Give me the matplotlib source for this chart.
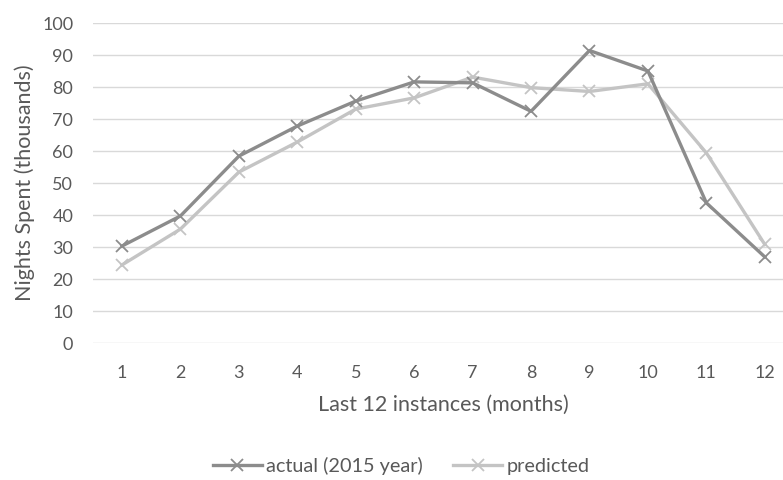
import matplotlib
matplotlib.use("Agg")
import matplotlib.pyplot as plt

# donnees
mois = list(range(1, 13))
actual = [30.3, 39.7, 58.4, 67.8, 75.6, 81.6, 81.3, 72.4, 91.4, 85.0, 43.8, 26.9]
predicted = [24.4, 35.6, 53.4, 62.8, 73.1, 76.6, 83.1, 79.8, 78.6, 81.0, 59.4, 30.8]
yticks = list(range(0, 101, 10))

plt.rcParams['font.family'] = ['Lato', 'DejaVu Sans']
texte = '#595959'

fig = plt.figure(figsize=(7.83, 4.8), dpi=100)
ax = fig.add_axes([92.8 / 783, 137 / 480, (794 - 92.8) / 783, 320 / 480])

ax.plot(mois, actual, color='#8c8c8c', lw=2.4, marker='x', ms=9, mew=1.3,
        label='actual (2015 year)', zorder=3)
ax.plot(mois, predicted, color='#c4c4c4', lw=2.4, marker='x', ms=9, mew=1.3,
        label='predicted', zorder=2)

ax.set_xlim(0.5, 12.5)
ax.set_ylim(0, 100)
ax.set_xticks(mois)
ax.set_yticks(yticks)
ax.grid(axis='y', color='#d9d9d9', lw=1)
ax.set_axisbelow(True)
for s in ax.spines.values():
    s.set_visible(False)
ax.tick_params(length=0, colors=texte, labelsize=13)
ax.tick_params(axis='x', pad=16)
ax.tick_params(axis='y', pad=14)

ax.set_xlabel('Last 12 instances (months)', color=texte, fontsize=15.5, labelpad=10)
ax.set_ylabel('Nights Spent (thousands)', color=texte, fontsize=15.5, labelpad=5)

fig.legend(loc='center', bbox_to_anchor=(401 / 783, 1 - 466 / 480), ncol=2,
           frameon=False, fontsize=14.3, labelcolor=texte, handlelength=2.5,
           columnspacing=1.5, handletextpad=0.2)

plt.savefig('out.png', dpi=100)
